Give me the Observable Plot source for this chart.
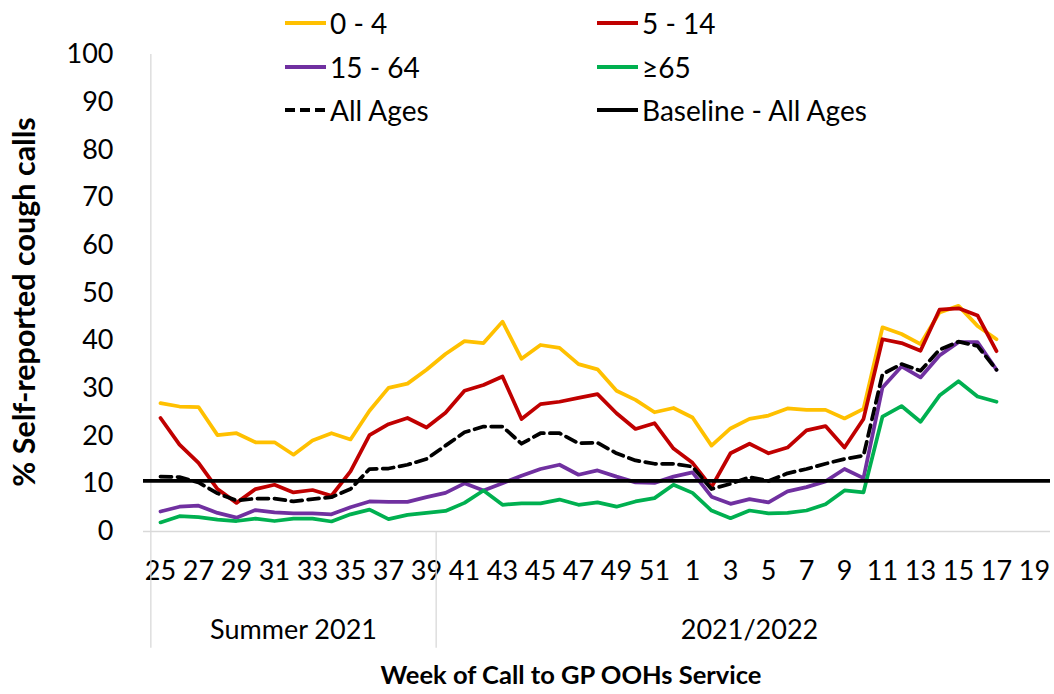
<!DOCTYPE html>
<html><head><meta charset="utf-8">
<script src="https://cdn.jsdelivr.net/npm/d3@7"></script>
<script src="https://cdn.jsdelivr.net/npm/@observablehq/plot@0.6"></script>
<style>
body{margin:0;background:#fff;}
#wrap{position:relative;width:1054px;height:694px;font-family:Lato,sans-serif;color:#000;}
.item{position:absolute;display:flex;align-items:center;height:40px;font-size:28px;white-space:nowrap;}
.item svg{margin-right:4px;}
</style></head><body><div id="wrap"></div>
<script>
// Week labels on the category axis (2021 weeks 25-52, then 2022 weeks 1-19)
const weeks = [25,26,27,28,29,30,31,32,33,34,35,36,37,38,39,40,41,42,43,44,45,46,47,48,49,50,51,52,
               1,2,3,4,5,6,7,8,9,10,11,12,13,14,15,16,17,18,19];
const age0_4  = [26.9,26.2,26.1,20.2,20.6,18.7,18.7,16.1,19.1,20.6,19.3,25.3,30.1,31.0,33.9,37.2,39.9,39.5,44.0,36.2,39.1,38.5,35.1,34.0,29.5,27.6,25.0,25.9,23.9,18.0,21.6,23.6,24.3,25.8,25.5,25.5,23.7,25.7,42.8,41.4,39.3,45.9,47.3,43.1,40.3];
const age5_14 = [23.8,18.2,14.4,8.9,6.0,8.9,9.8,8.2,8.7,7.5,12.6,20.2,22.5,23.8,21.8,24.9,29.5,30.7,32.5,23.6,26.7,27.2,28.0,28.8,24.8,21.5,22.7,17.4,14.4,9.3,16.4,18.4,16.4,17.6,21.2,22.1,17.6,23.6,40.3,39.5,37.9,46.5,46.8,45.3,37.8];
const age15_64= [4.2,5.2,5.4,3.9,2.9,4.5,4.0,3.8,3.8,3.6,5.1,6.3,6.2,6.2,7.2,8.1,10.1,8.6,10.1,11.7,13.1,14.0,11.9,12.8,11.5,10.3,10.2,11.5,12.4,7.3,5.8,6.8,6.1,8.4,9.3,10.5,13.1,11.2,30.2,34.6,32.3,36.9,39.7,39.7,33.9];
const age65   = [1.9,3.2,3.0,2.5,2.2,2.7,2.2,2.7,2.7,2.1,3.6,4.6,2.6,3.5,3.9,4.3,6.0,8.6,5.6,5.9,5.9,6.7,5.6,6.1,5.2,6.3,7.0,9.8,8.1,4.4,2.8,4.4,3.8,3.9,4.4,5.7,8.6,8.2,24.1,26.3,23.0,28.5,31.5,28.3,27.2];
const allAges = [11.5,11.4,10.3,8.0,6.5,6.9,6.9,6.3,6.8,7.2,8.9,13.1,13.2,14.0,15.2,18.0,20.8,22.0,22.0,18.4,20.6,20.6,18.5,18.6,16.4,14.9,14.2,14.2,13.6,8.9,10.0,11.4,10.6,12.2,13.1,14.2,15.2,15.9,33.0,35.1,33.7,38.1,39.8,38.9,33.9];
const baselineAllAges = 10.6;
const seriesNames = ["0 - 4","5 - 14","15 - 64","≥65","All Ages","Baseline - All Ages"];
const seriesColors = ["#FFC000","#C00000","#7030A0","#00B050","#000000","#000000"];
const yTicks = [0,10,20,30,40,50,60,70,80,90,100];
const groupNames = ["Summer 2021","2021/2022"];
const groupLabelWeek = [32, 4];
const groupStartWeek = [25, 40];
const xTitle = "Week of Call to GP OOHs Service";
const yTitle = "% Self-reported cough calls";

const W = 1054, H = 694, mL = 143, mR = 4, mT = 54, mB = 163;
const step = (W - mL - mR) / weeks.length;
const lw = 3.75;
const seriesValues = [age0_4, age5_14, age15_64, age65];

const lineMarks = seriesValues.map((vals, k) =>
  Plot.lineY(vals, {x: (d, i) => weeks[i], y: d => d, stroke: seriesColors[k], strokeWidth: lw,
    strokeLinejoin: "round", strokeLinecap: "round"}));

const groups = groupNames.map((n, i) => ({name: n, at: groupLabelWeek[i], start: groupStartWeek[i]}));

const chart = Plot.plot({
  width: W, height: H, marginLeft: mL, marginRight: mR, marginTop: mT, marginBottom: mB,
  style: {fontFamily: "Lato, sans-serif", fontSize: "27px", color: "#000", background: "#fff", overflow: "visible"},
  x: {type: "point", domain: weeks, padding: 0.5, align: 0.5},
  y: {domain: [0, 100]},
  marks: [
    Plot.axisY({ticks: yTicks, tickSize: 0, tickPadding: 30, label: null, fontSize: 27}),
    Plot.axisX({ticks: weeks.filter((d, i) => i % 2 === 0), tickSize: 0, tickPadding: 29, label: null, fontSize: 27}),
    Plot.ruleY([0], {stroke: "#d9d9d9", strokeWidth: 1.3}),
    Plot.ruleX(groups.slice(0, 1), {x: "start", dx: -step / 2, y1: 100, y2: -24.5, stroke: "#d9d9d9", strokeWidth: 1.3}),
    Plot.ruleX(groups.slice(1), {x: d => weeks[weeks.indexOf(d.start) - 1], dx: step / 2, y1: 0, y2: -24.5, stroke: "#d9d9d9", strokeWidth: 1.3}),
    ...lineMarks,
    Plot.lineY(allAges, {x: (d, i) => weeks[i], y: d => d, stroke: seriesColors[4], strokeWidth: lw, strokeDasharray: "11,6"}),
    Plot.ruleY([baselineAllAges], {stroke: seriesColors[5], strokeWidth: lw}),
    Plot.text(groups, {x: "at", y: -20.7, text: "name", fontSize: 27}),
    Plot.text([xTitle], {frameAnchor: "bottom", dy: 152, dx: -26, fontWeight: "bold", fontSize: 25.5}),
    Plot.text([yTitle], {frameAnchor: "left", textAnchor: "middle", rotate: -90, dx: -118, dy: 9, fontWeight: "bold", fontSize: 30.5})
  ]
});
const wrap = document.getElementById("wrap");
wrap.appendChild(chart);

// Legend (HTML overlay)
const colX = [285, 597], rowY = [23, 67, 110];
seriesNames.forEach((name, k) => {
  const div = document.createElement("div");
  div.className = "item";
  div.style.left = colX[k % 2] + "px";
  div.style.top = (rowY[Math.floor(k / 2)] - 20) + "px";
  const dash = name === "All Ages" ? ' stroke-dasharray="10,5"' : "";
  div.innerHTML = `<svg width="41" height="10"><line x1="0" y1="5" x2="41" y2="5" stroke="${seriesColors[k]}" stroke-width="4"${dash}/></svg><span>${name}</span>`;
  wrap.appendChild(div);
});
</script></body></html>
